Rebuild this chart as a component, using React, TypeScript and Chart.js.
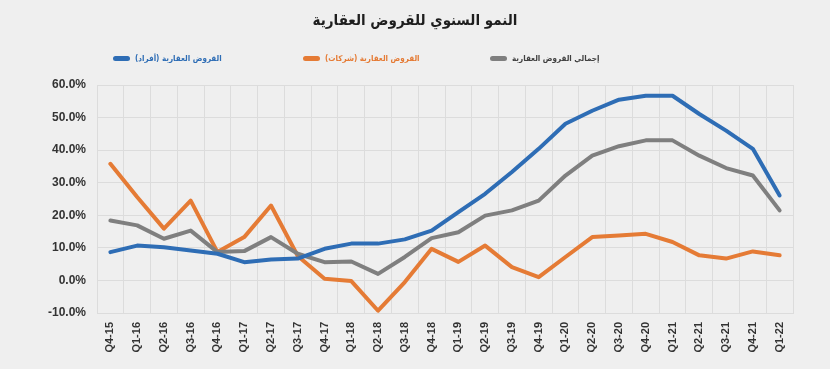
import React, { useEffect, useRef } from "react";
import { Chart, registerables } from "chart.js";

Chart.register(...registerables);

const title = "النمو السنوي للقروض العقارية";
const categories = [
  "Q4-15", "Q1-16", "Q2-16", "Q3-16", "Q4-16", "Q1-17", "Q2-17", "Q3-17", "Q4-17",
  "Q1-18", "Q2-18", "Q3-18", "Q4-18", "Q1-19", "Q2-19", "Q3-19", "Q4-19",
  "Q1-20", "Q2-20", "Q3-20", "Q4-20", "Q1-21", "Q2-21", "Q3-21", "Q4-21", "Q1-22",
];
const seriesNames = ["القروض العقارية (أفراد)", "القروض العقارية (شركات)", "إجمالي القروض العقارية"];
const individuals = [8.7, 10.7, 10.2, 9.2, 8.2, 5.6, 6.4, 6.7, 9.7, 11.3, 11.3, 12.6, 15.3, 21.0, 26.6, 33.3, 40.4, 48.1, 52.1, 55.5, 56.7, 56.7, 51.1, 46.0, 40.4, 26.1];
const companies = [35.8, 25.6, 15.9, 24.5, 8.7, 13.3, 23.0, 7.5, 0.5, -0.2, -9.3, -0.5, 9.7, 5.7, 10.7, 4.1, 1.0, 7.2, 13.3, 13.8, 14.3, 11.8, 7.7, 6.7, 8.9, 7.7];
const total = [18.4, 16.9, 12.8, 15.3, 8.7, 9.0, 13.3, 8.2, 5.6, 5.8, 2.0, 7.2, 13.0, 14.8, 19.9, 21.5, 24.5, 32.2, 38.3, 41.2, 43.0, 43.0, 38.3, 34.5, 32.2, 21.5];
const colors = ["#2E6DB5", "#E57B35", "#7F7F7F"];
const legendText = ["#2E6DB5", "#E57B35", "#404040"];

const bgPlugin = {
  id: "bg",
  beforeDraw(chart: any) {
    const { ctx, width, height } = chart;
    ctx.save();
    ctx.fillStyle = "#EFEFEF";
    ctx.fillRect(0, 0, width, height);
    ctx.restore();
  },
};

export default function App() {
  const ref = useRef<HTMLCanvasElement | null>(null);
  useEffect(() => {
    if (!ref.current) return;
    const values = [individuals, companies, total];
    const chart = new Chart(ref.current, {
      type: "line",
      data: {
        labels: categories,
        datasets: values.map((d, i) => ({
          label: seriesNames[i],
          data: d,
          borderColor: colors[i],
          backgroundColor: colors[i],
          borderWidth: 4,
          pointRadius: 0,
          tension: 0,
          borderCapStyle: "round" as const,
          borderJoinStyle: "round" as const,
          order: i === 0 ? 0 : i === 1 ? 2 : 1,
        })),
      },
      options: {
        responsive: false,
        animation: false,
        layout: { padding: 0 },
        plugins: {
          legend: { display: false },
          tooltip: { enabled: false },
          title: {
            display: true,
            text: title,
            color: "#1E1E1E",
            font: { family: "'DejaVu Sans Condensed', 'DejaVu Sans', sans-serif", size: 15, weight: "bold" },
            padding: { top: 12, bottom: 55 },
          },
        },
        scales: {
          x: {
            type: "category",
            offset: true,
            grid: { offset: true, color: "#DCDCDC", drawTicks: false, lineWidth: 1 },
            border: { color: "#DCDCDC" },
            ticks: {
              minRotation: 90,
              maxRotation: 90,
              autoSkip: false,
              padding: 9,
              color: "#333333",
              font: { family: "'Liberation Sans', sans-serif", size: 11, weight: "bold" },
            },
            afterFit(scale: any) {
              scale.height = 56;
            },
          },
          y: {
            min: -10,
            max: 60,
            ticks: {
              stepSize: 10,
              padding: 11,
              color: "#333333",
              font: { family: "'Liberation Sans', sans-serif", size: 12, weight: "bold" },
              callback: (v: any) => Number(v).toFixed(1) + "%",
            },
            grid: { color: "#DCDCDC", drawTicks: false },
            border: { color: "#DCDCDC" },
            afterFit(scale: any) {
              scale.width = 97;
            },
          },
          yRight: {
            position: "right",
            display: true,
            min: -10,
            max: 60,
            grid: { display: false, drawTicks: false },
            ticks: { display: false },
            border: { display: false },
            afterFit(scale: any) {
              scale.width = 37;
            },
          },
        },
      },
      plugins: [bgPlugin],
    });
    return () => chart.destroy();
  }, []);

  const legendLeft = [113, 303, 490];
  return (
    <div style={{ position: "absolute", left: 0, top: 0, width: 830, height: 369, background: "#EFEFEF" }}>
      <canvas ref={ref} width={830} height={369} style={{ display: "block" }} />
      {seriesNames.map((n, i) => (
        <div
          key={n}
          style={{
            position: "absolute",
            left: legendLeft[i],
            top: 50,
            height: 16,
            display: "flex",
            alignItems: "center",
            gap: 5,
            whiteSpace: "nowrap",
          }}
        >
          <span style={{ display: "inline-block", width: 17, height: 5, borderRadius: 3, background: colors[i] }} />
          <span
            style={{
              fontFamily: "'DejaVu Sans Condensed', 'DejaVu Sans', sans-serif",
              fontSize: 8,
              fontWeight: "bold",
              color: legendText[i],
              direction: "rtl",
            }}
          >
            {n}
          </span>
        </div>
      ))}
    </div>
  );
}
